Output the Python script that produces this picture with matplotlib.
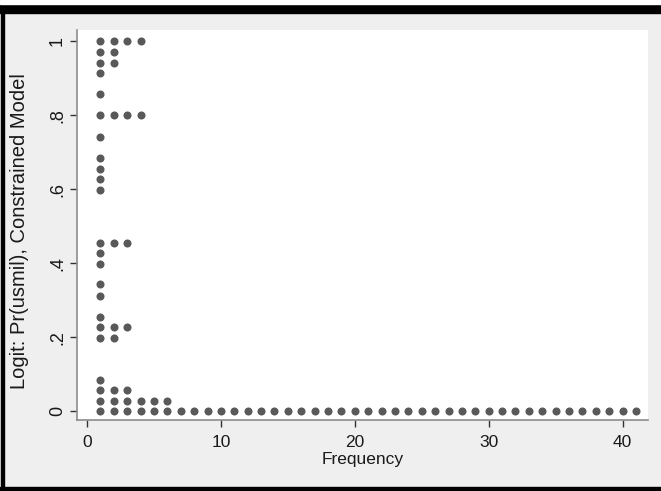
import matplotlib.pyplot as plt
from matplotlib.patches import Rectangle

# predicted probability levels and how many cases share each one
prob_levels = [1.0, 0.971, 0.943, 0.914, 0.858, 0.8, 0.741, 0.684, 0.656, 0.628,
               0.598, 0.455, 0.427, 0.399, 0.343, 0.312, 0.255, 0.227, 0.197,
               0.084, 0.057, 0.027, 0.0]
level_counts = [4, 2, 2, 1, 1, 4, 1, 1, 1, 1,
                1, 3, 1, 1, 1, 1, 1, 3, 2,
                1, 3, 6, 41]

x_ticks = [0, 10, 20, 30, 40]
y_ticks = [0, 0.2, 0.4, 0.6, 0.8, 1.0]
y_tick_labels = ['0', '.2', '.4', '.6', '.8', '1']

plt.rcParams['font.family'] = ['Liberation Sans', 'DejaVu Sans']

fig = plt.figure(figsize=(6.61, 4.91), dpi=100)
fig.patch.set_facecolor('#efefef')

# black frame of the screenshot
W, H = 661, 491
fig.patches.append(Rectangle((0, 1 - 13 / H), 1, 9 / H, transform=fig.transFigure,
                             color='black', zorder=0))
fig.patches.append(Rectangle((0, 1 - 4 / H), 1, 4 / H, transform=fig.transFigure,
                             color='white', zorder=0))
fig.patches.append(Rectangle((1 / W, 0), 3 / W, 1 - 13 / H, transform=fig.transFigure,
                             color='black', zorder=0))
fig.patches.append(Rectangle((0, 0), 1, 4 / H, transform=fig.transFigure,
                             color='black', zorder=0))

ax = fig.add_axes([77 / W, 1 - 420 / H, (648 - 77) / W, 390 / H])
ax.set_facecolor('white')

xs, ys = [], []
for p, n in zip(prob_levels, level_counts):
    for k in range(1, n + 1):
        xs.append(k)
        ys.append(p)
ax.plot(xs, ys, 'o', color='#595959', markersize=5.8, markeredgewidth=0)

ax.set_xlim(-0.75, 41.9)
ax.set_ylim(-0.0244, 1.031)

ax.set_xticks(x_ticks)
ax.set_yticks(y_ticks)
ax.set_yticklabels(y_tick_labels, rotation=90, va='center')

for s in ['top', 'right']:
    ax.spines[s].set_visible(False)
for s in ['left', 'bottom']:
    ax.spines[s].set_color('#8c8c8c')
    ax.spines[s].set_linewidth(1.2)

ax.tick_params(axis='both', length=5, width=1, color='#333333',
               labelcolor='#1a1a1a')
ax.tick_params(axis='x', labelsize=12.5, pad=6)
ax.tick_params(axis='y', labelsize=13, pad=3)

ax.set_xlabel('Frequency', fontsize=12.5, color='#1a1a1a', labelpad=1)
ax.set_ylabel('Logit: Pr(usmil), Constrained Model', fontsize=14.5, color='#1a1a1a',
              va='center')
ax.yaxis.set_label_coords(-0.1, 0.485)

fig.savefig('out.png', dpi=100, facecolor=fig.get_facecolor())
